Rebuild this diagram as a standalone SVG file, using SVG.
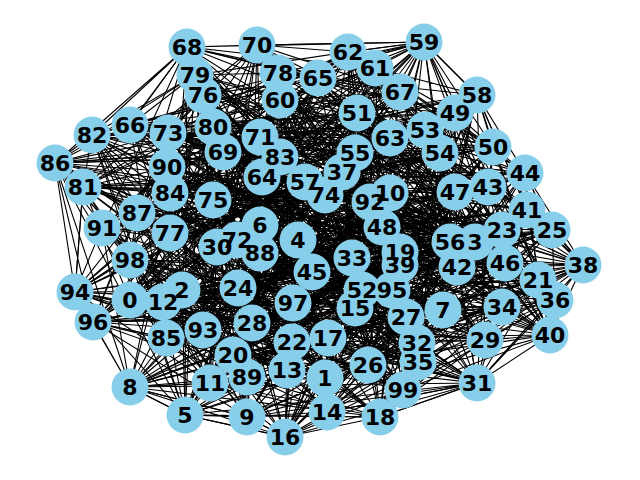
<svg xmlns="http://www.w3.org/2000/svg" width="640" height="480" viewBox="0 0 640 480">
<style>
.e{fill:none;stroke:#000;stroke-width:1.1;stroke-linejoin:miter}
.n circle{fill:#87ceeb}
.lb text{font-family:"DejaVu Sans","Liberation Sans",sans-serif;font-weight:bold;font-size:22px;text-anchor:middle;fill:#000}
</style>
<rect width="640" height="480" fill="#fff"/>
<g id="edges" class="e">
<path d="M130 300 325 378 182 290 475 242 298 240 185 415 260 225 443 310 130 387 247 417 390 193 210 383 163 302 287 370 327 412 355 308 285 437 328 338 380 417 400 252 233 355 538 280 292 342 502 230 238 288 552 230 368 365 406 317 252 323 485 340 217 247 477 383 417 343 352 258 502 307 418 362 555 300 342 172 583 265 400 265 550 335 527 210 457 267 488 187 525 173 312 272 505 263 455 192 382 227 455 113 493 147 357 113 362 290 425 130 440 153 355 153 450 242 305 182 477 95 424 42 280 100 375 68 348 52 390 138 262 177 318 78 130 125 400 92 187 47 223 152 257 45 260 137 237 240 168 133 325 195 213 200 203 95 170 233 278 73 195 75 213 127 83 187 92 135 280 157 170 193 166 338 55 163 137 213 260 253 247 377 167 167 102 228 370 202 203 330 75 292 392 290 93 322 293 303 130 260 403 390Z"/>
<path d="M130 300 475 242 260 225 247 417 163 302 355 308 380 417 538 280 238 288 406 317 217 247 352 258 555 300 400 265 457 267 312 272 382 227 357 113 440 153 305 182 280 100 390 138 130 125 223 152 237 240 213 200 278 73 83 187 170 193 137 213 167 167 203 330 93 322 403 390 182 290 185 415 130 387 210 383 327 412 328 338 233 355 502 230 368 365 485 340 417 343 418 362 583 265 527 210 525 173 455 192 493 147 425 130 450 242 424 42 348 52 318 78 187 47 260 137 325 195 170 233 213 127 280 157 55 163 247 377 370 202 392 290 130 260 325 378 298 240 443 310 390 193 287 370 285 437 400 252 292 342 552 230 252 323 477 383 502 307 342 172 550 335 488 187 505 263 455 113 362 290 355 153 477 95 375 68 262 177 400 92 257 45 168 133 203 95 195 75 92 135 166 338 260 253 102 228 75 292 293 303Z"/>
<path d="M130 300 443 310 327 412 538 280 252 323 418 362 457 267 455 113 450 242 390 138 257 45 170 233 170 193 102 228 130 260 185 415 163 302 400 252 368 365 352 258 550 335 455 192 440 153 375 68 187 47 213 200 92 135 247 377 93 322 475 242 390 193 328 338 238 288 477 383 583 265 312 272 362 290 424 42 130 125 168 133 213 127 137 213 75 292 325 378 130 387 355 308 292 342 485 340 555 300 488 187 493 147 305 182 262 177 260 137 278 73 166 338 370 202 403 390 260 225 287 370 233 355 406 317 502 307 527 210 382 227 355 153 348 52 223 152 203 95 280 157 167 167 293 303 298 240 210 383 380 417 552 230 417 343 400 265 505 263 425 130 280 100 400 92 325 195 83 187 260 253 392 290 182 290 247 417 285 437 502 230 217 247 342 172 525 173 357 113 477 95 318 78 237 240 195 75 55 163 203 330Z"/>
<path d="M130 300 210 383 292 342 352 258 525 173 355 153 130 125 170 233 260 253 403 390 390 193 538 280 417 343 488 187 440 153 318 78 203 95 137 213 130 260 247 417 233 355 477 383 457 267 425 130 262 177 213 200 55 163 293 303 130 387 400 252 217 247 527 210 362 290 390 138 325 195 166 338 93 322 443 310 380 417 485 340 550 335 357 113 348 52 168 133 170 193 392 290 260 225 328 338 252 323 400 265 493 147 375 68 237 240 280 157 75 292 185 415 285 437 406 317 583 265 455 113 280 100 260 137 92 135 203 330 298 240 355 308 368 365 342 172 382 227 424 42 257 45 83 187 370 202 475 242 327 412 552 230 555 300 455 192 477 95 223 152 213 127 102 228 182 290 287 370 238 288 418 362 505 263 305 182 187 47 195 75 167 167 325 378 163 302 502 230 502 307 312 272 450 242 400 92 278 73 247 377Z"/>
<path d="M130 300 287 370 368 365 400 265 362 290 318 78 278 73 102 228 298 240 328 338 217 247 488 187 450 242 223 152 92 135 392 290 130 387 538 280 502 307 455 192 280 100 168 133 55 163 403 390 163 302 552 230 583 265 357 113 262 177 170 233 167 167 475 242 285 437 485 340 457 267 355 153 187 47 83 187 75 292 443 310 233 355 352 258 505 263 424 42 237 240 166 338 130 260 210 383 238 288 342 172 493 147 390 138 203 95 247 377 182 290 355 308 252 323 527 210 440 153 400 92 213 127 203 330 260 225 400 252 417 343 312 272 477 95 260 137 170 193 293 303 390 193 502 230 555 300 455 113 348 52 213 200 260 253 325 378 327 412 406 317 550 335 425 130 130 125 195 75 370 202 185 415 380 417 477 383 525 173 305 182 257 45 280 157 93 322 247 417 292 342 418 362 382 227 375 68 325 195 137 213Z"/>
<path d="M130 300 328 338 502 307 357 113 187 47 166 338 182 290 400 252 555 300 425 130 257 45 137 213 298 240 538 280 583 265 355 153 237 240 247 377 260 225 502 230 550 335 305 182 325 195 102 228 130 387 552 230 457 267 424 42 203 95 203 330 390 193 406 317 525 173 375 68 278 73 392 290 163 302 485 340 505 263 390 138 213 127 293 303 327 412 477 383 382 227 318 78 92 135 403 390 285 437 352 258 493 147 400 92 170 193 325 378 380 417 418 362 362 290 223 152 55 163 475 242 233 355 342 172 440 153 260 137 260 253 185 415 292 342 400 265 450 242 168 133 167 167 443 310 238 288 527 210 477 95 213 200 370 202 247 417 368 365 488 187 280 100 170 233 75 292 210 383 252 323 312 272 348 52 195 75 93 322 287 370 217 247 455 192 262 177 83 187 130 260 355 308 417 343 455 113 130 125 280 157Z"/>
<path d="M130 300 400 252 583 265 305 182 203 95 392 290 327 412 352 258 362 290 260 137 167 167 247 417 252 323 455 192 130 125 166 338 298 240 502 230 457 267 375 68 213 127 403 390 380 417 342 172 450 242 213 200 75 292 287 370 417 343 357 113 257 45 247 377 130 387 406 317 505 263 318 78 170 193 475 242 292 342 527 210 280 100 195 75 130 260 328 338 555 300 355 153 325 195 203 330 163 302 477 383 493 147 223 152 260 253 443 310 368 365 312 272 262 177 280 157 182 290 538 280 550 335 424 42 278 73 293 303 285 437 418 362 440 153 168 133 370 202 210 383 217 247 455 113 187 47 137 213 260 225 552 230 525 173 390 138 92 135 325 378 233 355 400 265 477 95 170 233 93 322 355 308 502 307 425 130 237 240 102 228 390 193 485 340 382 227 400 92 55 163 185 415 238 288 488 187 348 52 83 187Z"/>
<path d="M130 300 502 230 505 263 223 152 370 202 355 308 583 265 375 68 170 193 443 310 217 247 425 130 203 95 403 390 292 342 312 272 187 47 102 228 327 412 342 172 280 100 280 157 260 225 485 340 362 290 213 200 130 260 538 280 525 173 400 92 167 167 287 370 555 300 424 42 92 135 185 415 252 323 357 113 325 195 293 303 233 355 488 187 130 125 247 377 163 302 418 362 477 95 83 187 298 240 406 317 493 147 168 133 93 322 400 252 457 267 318 78 260 253 210 383 502 307 305 182 213 127 475 242 368 365 455 113 237 240 392 290 380 417 527 210 262 177 137 213 390 193 352 258 450 242 195 75 182 290 552 230 382 227 260 137 75 292 328 338 550 335 390 138 55 163 247 417 417 343 355 153 278 73 325 378 238 288 455 192 257 45 203 330 285 437 400 265 348 52 166 338 130 387 477 383 440 153 170 233Z"/>
<path d="M130 300 485 340 477 95 137 213 285 437 312 272 325 195 475 242 417 343 375 68 167 167 400 252 382 227 170 233 260 225 418 362 262 177 203 330 292 342 357 113 213 127 247 417 583 265 400 92 93 322 552 230 440 153 280 157 163 302 527 210 257 45 403 390 252 323 305 182 55 163 355 308 525 173 168 133 182 290 477 383 280 100 247 377 380 417 455 192 203 95 185 415 502 307 390 138 370 202 538 280 493 147 195 75 130 387 342 172 130 125 392 290 238 288 425 130 92 135 210 383 550 335 223 152 130 260 406 317 450 242 166 338 327 412 488 187 237 240 325 378 217 247 424 42 260 253 328 338 505 263 213 200 298 240 352 258 348 52 102 228 233 355 455 113 278 73 443 310 555 300 318 78 75 292 502 230 362 290 83 187 390 193 400 265 187 47 293 303 368 365 355 153 170 193 287 370 457 267 260 137Z"/>
<path d="M130 300 477 383 348 52 203 330 238 288 355 153 55 163 328 338 382 227 195 75 390 193 527 210 237 240 475 242 502 307 318 78 93 322 406 317 477 95 247 377 233 355 357 113 92 135 287 370 525 173 213 200 260 225 342 172 187 47 403 390 217 247 375 68 370 202 502 230 440 153 166 338 285 437 455 192 278 73 247 417 550 335 260 137 182 290 352 258 262 177 392 290 368 365 305 182 260 253 400 252 493 147 83 187 163 302 488 187 325 195 185 415 555 300 400 92 130 260 485 340 280 100 102 228 292 342 425 130 170 193 355 308 505 263 170 233 130 387 400 265 257 45 325 378 417 343 390 138 75 292 552 230 450 242 137 213 380 417 455 113 213 127 210 383 457 267 168 133 298 240 418 362 130 125 293 303 252 323 424 42 167 167 538 280 362 290 280 157 327 412 312 272 203 95 443 310 583 265 223 152Z"/>
<path d="M130 300 342 172 325 195 210 383 382 227 166 338 292 342 424 42 93 322 352 258 257 45 443 310 525 173 83 187 380 417 355 153 370 202 485 340 130 125 475 242 550 335 170 233 327 412 357 113 260 253 552 230 348 52 403 390 555 300 168 133 390 193 455 192 170 193 538 280 477 95 392 290 417 343 223 152 260 225 488 187 213 127 328 338 440 153 102 228 252 323 318 78 182 290 400 265 203 95 287 370 493 147 137 213 238 288 375 68 130 260 418 362 237 240 247 417 505 263 280 157 233 355 305 182 75 292 477 383 187 47 185 415 457 267 195 75 285 437 425 130 167 167 406 317 262 177 325 378 583 265 213 200 163 302 455 113 55 163 502 230 280 100 293 303 502 307 260 137 130 387 312 272 92 135 400 252 450 242 203 330 217 247 400 92 298 240 527 210 278 73 355 308 362 290 247 377 368 365 390 138Z"/>
<path d="M130 300 527 210 92 135 502 230 262 177 185 415 505 263 137 213 252 323 223 152 390 193 357 113 370 202 352 258 325 195 355 308 450 242 293 303 583 265 195 75 233 355 375 68 182 290 488 187 170 193 552 230 130 125 443 310 382 227 247 377 217 247 260 137 163 302 425 130 75 292 418 362 203 95 328 338 477 95 403 390 550 335 83 187 292 342 390 138 298 240 312 272 55 163 406 317 187 47 247 417 493 147 102 228 417 343 168 133 327 412 355 153 93 322 342 172 278 73 400 252 280 100 325 378 457 267 280 157 238 288 318 78 260 225 455 192 260 253 485 340 257 45 210 383 362 290 203 330 502 307 213 200 285 437 305 182 130 260 400 265 213 127 538 280 348 52 475 242 525 173 166 338 368 365 400 92 130 387 455 113 167 167 477 383 237 240 287 370 440 153 392 290 555 300 170 233 380 417 424 42Z"/>
<path d="M298 240 352 258 260 225 382 227 312 272 390 193 260 253 400 252 305 182 362 290 325 195 392 290 238 288 400 265 293 303 370 202 292 342 406 317 262 177 355 308 280 157 457 267 342 172 475 242 355 153 450 242 390 138 455 192 440 153 443 310 417 343 368 365 418 362 328 338 325 378 287 370 252 323 233 355"/>
<path d="M237 240 400 252 217 247 362 290 260 225 392 290 213 200 352 258 262 177 400 265 223 152 382 227 260 137 390 193 213 127 370 202 280 157 298 240 342 172 312 272 355 153 293 303 305 182 355 308 325 195 406 317 260 253 443 310 238 288 457 267 252 323 450 242 203 330 475 242 210 383"/>
<path d="M187 47 257 45M257 45 348 52M187 47 424 42M257 45 424 42M348 52 424 42M375 68 424 42M400 92 424 42M424 42 477 95M424 42 455 113M424 42 493 147M477 95 493 147M477 95 525 173M477 95 527 210M493 147 525 173M525 173 552 230M525 173 583 265M527 210 583 265M552 230 583 265M583 265 555 300M583 265 550 335M583 265 538 280M583 265 505 263M583 265 502 307M583 265 485 340M555 300 550 335M550 335 477 383M555 300 477 383M583 265 477 383M538 280 477 383M477 383 380 417M477 383 285 437M477 383 327 412M477 383 247 417M477 383 185 415M380 417 285 437M285 437 247 417M285 437 185 415M285 437 130 387M247 417 185 415M247 417 130 387M185 415 130 387M130 387 93 322M130 387 75 292M130 387 55 163M93 322 75 292M75 292 55 163M93 322 55 163M75 292 83 187M55 163 83 187M55 163 92 135M55 163 187 47M92 135 187 47M130 125 187 47M55 163 130 125M130 387 380 417M185 415 380 417M247 417 327 412"/>
</g>
<g id="nodes">
<g id="node-0" class="n"><circle cx="130" cy="300" r="18.5"/></g>
<g id="node-1" class="n"><circle cx="325" cy="378" r="18.5"/></g>
<g id="node-2" class="n"><circle cx="182" cy="290" r="18.5"/></g>
<g id="node-3" class="n"><circle cx="475" cy="242" r="18.5"/></g>
<g id="node-4" class="n"><circle cx="298" cy="240" r="18.5"/></g>
<g id="node-5" class="n"><circle cx="185" cy="415" r="18.5"/></g>
<g id="node-6" class="n"><circle cx="260" cy="225" r="18.5"/></g>
<g id="node-7" class="n"><circle cx="443" cy="310" r="18.5"/></g>
<g id="node-8" class="n"><circle cx="130" cy="387" r="18.5"/></g>
<g id="node-9" class="n"><circle cx="247" cy="417" r="18.5"/></g>
<g id="node-10" class="n"><circle cx="390" cy="193" r="18.5"/></g>
<g id="node-11" class="n"><circle cx="210" cy="383" r="18.5"/></g>
<g id="node-12" class="n"><circle cx="163" cy="302" r="18.5"/></g>
<g id="node-13" class="n"><circle cx="287" cy="370" r="18.5"/></g>
<g id="node-14" class="n"><circle cx="327" cy="412" r="18.5"/></g>
<g id="node-15" class="n"><circle cx="355" cy="308" r="18.5"/></g>
<g id="node-16" class="n"><circle cx="285" cy="437" r="18.5"/></g>
<g id="node-17" class="n"><circle cx="328" cy="338" r="18.5"/></g>
<g id="node-18" class="n"><circle cx="380" cy="417" r="18.5"/></g>
<g id="node-19" class="n"><circle cx="400" cy="252" r="18.5"/></g>
<g id="node-20" class="n"><circle cx="233" cy="355" r="18.5"/></g>
<g id="node-21" class="n"><circle cx="538" cy="280" r="18.5"/></g>
<g id="node-22" class="n"><circle cx="292" cy="342" r="18.5"/></g>
<g id="node-23" class="n"><circle cx="502" cy="230" r="18.5"/></g>
<g id="node-24" class="n"><circle cx="238" cy="288" r="18.5"/></g>
<g id="node-25" class="n"><circle cx="552" cy="230" r="18.5"/></g>
<g id="node-26" class="n"><circle cx="368" cy="365" r="18.5"/></g>
<g id="node-27" class="n"><circle cx="406" cy="317" r="18.5"/></g>
<g id="node-28" class="n"><circle cx="252" cy="323" r="18.5"/></g>
<g id="node-29" class="n"><circle cx="485" cy="340" r="18.5"/></g>
<g id="node-30" class="n"><circle cx="217" cy="247" r="18.5"/></g>
<g id="node-31" class="n"><circle cx="477" cy="383" r="18.5"/></g>
<g id="node-32" class="n"><circle cx="417" cy="343" r="18.5"/></g>
<g id="node-33" class="n"><circle cx="352" cy="258" r="18.5"/></g>
<g id="node-34" class="n"><circle cx="502" cy="307" r="18.5"/></g>
<g id="node-35" class="n"><circle cx="418" cy="362" r="18.5"/></g>
<g id="node-36" class="n"><circle cx="555" cy="300" r="18.5"/></g>
<g id="node-37" class="n"><circle cx="342" cy="172" r="18.5"/></g>
<g id="node-38" class="n"><circle cx="583" cy="265" r="18.5"/></g>
<g id="node-39" class="n"><circle cx="400" cy="265" r="18.5"/></g>
<g id="node-40" class="n"><circle cx="550" cy="335" r="18.5"/></g>
<g id="node-41" class="n"><circle cx="527" cy="210" r="18.5"/></g>
<g id="node-42" class="n"><circle cx="457" cy="267" r="18.5"/></g>
<g id="node-43" class="n"><circle cx="488" cy="187" r="18.5"/></g>
<g id="node-44" class="n"><circle cx="525" cy="173" r="18.5"/></g>
<g id="node-45" class="n"><circle cx="312" cy="272" r="18.5"/></g>
<g id="node-46" class="n"><circle cx="505" cy="263" r="18.5"/></g>
<g id="node-47" class="n"><circle cx="455" cy="192" r="18.5"/></g>
<g id="node-48" class="n"><circle cx="382" cy="227" r="18.5"/></g>
<g id="node-49" class="n"><circle cx="455" cy="113" r="18.5"/></g>
<g id="node-50" class="n"><circle cx="493" cy="147" r="18.5"/></g>
<g id="node-51" class="n"><circle cx="357" cy="113" r="18.5"/></g>
<g id="node-52" class="n"><circle cx="362" cy="290" r="18.5"/></g>
<g id="node-53" class="n"><circle cx="425" cy="130" r="18.5"/></g>
<g id="node-54" class="n"><circle cx="440" cy="153" r="18.5"/></g>
<g id="node-55" class="n"><circle cx="355" cy="153" r="18.5"/></g>
<g id="node-56" class="n"><circle cx="450" cy="242" r="18.5"/></g>
<g id="node-57" class="n"><circle cx="305" cy="182" r="18.5"/></g>
<g id="node-58" class="n"><circle cx="477" cy="95" r="18.5"/></g>
<g id="node-59" class="n"><circle cx="424" cy="42" r="18.5"/></g>
<g id="node-60" class="n"><circle cx="280" cy="100" r="18.5"/></g>
<g id="node-61" class="n"><circle cx="375" cy="68" r="18.5"/></g>
<g id="node-62" class="n"><circle cx="348" cy="52" r="18.5"/></g>
<g id="node-63" class="n"><circle cx="390" cy="138" r="18.5"/></g>
<g id="node-64" class="n"><circle cx="262" cy="177" r="18.5"/></g>
<g id="node-65" class="n"><circle cx="318" cy="78" r="18.5"/></g>
<g id="node-66" class="n"><circle cx="130" cy="125" r="18.5"/></g>
<g id="node-67" class="n"><circle cx="400" cy="92" r="18.5"/></g>
<g id="node-68" class="n"><circle cx="187" cy="47" r="18.5"/></g>
<g id="node-69" class="n"><circle cx="223" cy="152" r="18.5"/></g>
<g id="node-70" class="n"><circle cx="257" cy="45" r="18.5"/></g>
<g id="node-71" class="n"><circle cx="260" cy="137" r="18.5"/></g>
<g id="node-72" class="n"><circle cx="237" cy="240" r="18.5"/></g>
<g id="node-73" class="n"><circle cx="168" cy="133" r="18.5"/></g>
<g id="node-74" class="n"><circle cx="325" cy="195" r="18.5"/></g>
<g id="node-75" class="n"><circle cx="213" cy="200" r="18.5"/></g>
<g id="node-76" class="n"><circle cx="203" cy="95" r="18.5"/></g>
<g id="node-77" class="n"><circle cx="170" cy="233" r="18.5"/></g>
<g id="node-78" class="n"><circle cx="278" cy="73" r="18.5"/></g>
<g id="node-79" class="n"><circle cx="195" cy="75" r="18.5"/></g>
<g id="node-80" class="n"><circle cx="213" cy="127" r="18.5"/></g>
<g id="node-81" class="n"><circle cx="83" cy="187" r="18.5"/></g>
<g id="node-82" class="n"><circle cx="92" cy="135" r="18.5"/></g>
<g id="node-83" class="n"><circle cx="280" cy="157" r="18.5"/></g>
<g id="node-84" class="n"><circle cx="170" cy="193" r="18.5"/></g>
<g id="node-85" class="n"><circle cx="166" cy="338" r="18.5"/></g>
<g id="node-86" class="n"><circle cx="55" cy="163" r="18.5"/></g>
<g id="node-87" class="n"><circle cx="137" cy="213" r="18.5"/></g>
<g id="node-88" class="n"><circle cx="260" cy="253" r="18.5"/></g>
<g id="node-89" class="n"><circle cx="247" cy="377" r="18.5"/></g>
<g id="node-90" class="n"><circle cx="167" cy="167" r="18.5"/></g>
<g id="node-91" class="n"><circle cx="102" cy="228" r="18.5"/></g>
<g id="node-92" class="n"><circle cx="370" cy="202" r="18.5"/></g>
<g id="node-93" class="n"><circle cx="203" cy="330" r="18.5"/></g>
<g id="node-94" class="n"><circle cx="75" cy="292" r="18.5"/></g>
<g id="node-95" class="n"><circle cx="392" cy="290" r="18.5"/></g>
<g id="node-96" class="n"><circle cx="93" cy="322" r="18.5"/></g>
<g id="node-97" class="n"><circle cx="293" cy="303" r="18.5"/></g>
<g id="node-98" class="n"><circle cx="130" cy="260" r="18.5"/></g>
<g id="node-99" class="n"><circle cx="403" cy="390" r="18.5"/></g>
</g>
<g id="labels" class="lb">
<text id="label-0" x="130" y="308">0</text>
<text id="label-1" x="325" y="386">1</text>
<text id="label-2" x="182" y="298">2</text>
<text id="label-3" x="475" y="250">3</text>
<text id="label-4" x="298" y="248">4</text>
<text id="label-5" x="185" y="423">5</text>
<text id="label-6" x="260" y="233">6</text>
<text id="label-7" x="443" y="318">7</text>
<text id="label-8" x="130" y="395">8</text>
<text id="label-9" x="247" y="425">9</text>
<text id="label-10" x="390" y="201">10</text>
<text id="label-11" x="210" y="391">11</text>
<text id="label-12" x="163" y="310">12</text>
<text id="label-13" x="287" y="378">13</text>
<text id="label-14" x="327" y="420">14</text>
<text id="label-15" x="355" y="316">15</text>
<text id="label-16" x="285" y="445">16</text>
<text id="label-17" x="328" y="346">17</text>
<text id="label-18" x="380" y="425">18</text>
<text id="label-19" x="400" y="260">19</text>
<text id="label-20" x="233" y="363">20</text>
<text id="label-21" x="538" y="288">21</text>
<text id="label-22" x="292" y="350">22</text>
<text id="label-23" x="502" y="238">23</text>
<text id="label-24" x="238" y="296">24</text>
<text id="label-25" x="552" y="238">25</text>
<text id="label-26" x="368" y="373">26</text>
<text id="label-27" x="406" y="325">27</text>
<text id="label-28" x="252" y="331">28</text>
<text id="label-29" x="485" y="348">29</text>
<text id="label-30" x="217" y="255">30</text>
<text id="label-31" x="477" y="391">31</text>
<text id="label-32" x="417" y="351">32</text>
<text id="label-33" x="352" y="266">33</text>
<text id="label-34" x="502" y="315">34</text>
<text id="label-35" x="418" y="370">35</text>
<text id="label-36" x="555" y="308">36</text>
<text id="label-37" x="342" y="180">37</text>
<text id="label-38" x="583" y="273">38</text>
<text id="label-39" x="400" y="273">39</text>
<text id="label-40" x="550" y="343">40</text>
<text id="label-41" x="527" y="218">41</text>
<text id="label-42" x="457" y="275">42</text>
<text id="label-43" x="488" y="195">43</text>
<text id="label-44" x="525" y="181">44</text>
<text id="label-45" x="312" y="280">45</text>
<text id="label-46" x="505" y="271">46</text>
<text id="label-47" x="455" y="200">47</text>
<text id="label-48" x="382" y="235">48</text>
<text id="label-49" x="455" y="121">49</text>
<text id="label-50" x="493" y="155">50</text>
<text id="label-51" x="357" y="121">51</text>
<text id="label-52" x="362" y="298">52</text>
<text id="label-53" x="425" y="138">53</text>
<text id="label-54" x="440" y="161">54</text>
<text id="label-55" x="355" y="161">55</text>
<text id="label-56" x="450" y="250">56</text>
<text id="label-57" x="305" y="190">57</text>
<text id="label-58" x="477" y="103">58</text>
<text id="label-59" x="424" y="50">59</text>
<text id="label-60" x="280" y="108">60</text>
<text id="label-61" x="375" y="76">61</text>
<text id="label-62" x="348" y="60">62</text>
<text id="label-63" x="390" y="146">63</text>
<text id="label-64" x="262" y="185">64</text>
<text id="label-65" x="318" y="86">65</text>
<text id="label-66" x="130" y="133">66</text>
<text id="label-67" x="400" y="100">67</text>
<text id="label-68" x="187" y="55">68</text>
<text id="label-69" x="223" y="160">69</text>
<text id="label-70" x="257" y="53">70</text>
<text id="label-71" x="260" y="145">71</text>
<text id="label-72" x="237" y="248">72</text>
<text id="label-73" x="168" y="141">73</text>
<text id="label-74" x="325" y="203">74</text>
<text id="label-75" x="213" y="208">75</text>
<text id="label-76" x="203" y="103">76</text>
<text id="label-77" x="170" y="241">77</text>
<text id="label-78" x="278" y="81">78</text>
<text id="label-79" x="195" y="83">79</text>
<text id="label-80" x="213" y="135">80</text>
<text id="label-81" x="83" y="195">81</text>
<text id="label-82" x="92" y="143">82</text>
<text id="label-83" x="280" y="165">83</text>
<text id="label-84" x="170" y="201">84</text>
<text id="label-85" x="166" y="346">85</text>
<text id="label-86" x="55" y="171">86</text>
<text id="label-87" x="137" y="221">87</text>
<text id="label-88" x="260" y="261">88</text>
<text id="label-89" x="247" y="385">89</text>
<text id="label-90" x="167" y="175">90</text>
<text id="label-91" x="102" y="236">91</text>
<text id="label-92" x="370" y="210">92</text>
<text id="label-93" x="203" y="338">93</text>
<text id="label-94" x="75" y="300">94</text>
<text id="label-95" x="392" y="298">95</text>
<text id="label-96" x="93" y="330">96</text>
<text id="label-97" x="293" y="311">97</text>
<text id="label-98" x="130" y="268">98</text>
<text id="label-99" x="403" y="398">99</text>
</g>
</svg>
